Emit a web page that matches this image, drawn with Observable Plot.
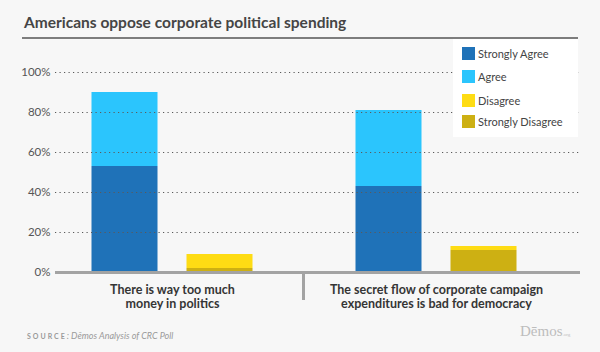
<!DOCTYPE html>
<html><head><meta charset="utf-8">
<script src="https://cdn.jsdelivr.net/npm/d3@7"></script>
<script src="https://cdn.jsdelivr.net/npm/@observablehq/plot@0.6"></script>
<style>
body{margin:0;background:#f7f7f7;}
#page{position:relative;width:600px;height:352px;background:#f7f7f7;overflow:hidden;font-family:Lato,sans-serif;}
#title{position:absolute;left:24px;top:14px;line-height:16px;font-size:15.5px;font-weight:700;color:#454545;white-space:nowrap;}
#rule{position:absolute;left:22px;top:37px;width:556px;height:2px;background:#7d7d7d;}
#chart{position:absolute;left:0;top:40px;}
#legend{position:absolute;left:453px;top:39px;width:125px;height:98px;background:#fff;}
.item{position:absolute;left:9px;height:13px;font-size:11px;color:#444;display:flex;align-items:center;white-space:nowrap;}
.sw{width:13px;height:13px;margin-right:3px;flex:none;}
#source{position:absolute;left:27px;top:327px;line-height:12px;color:#9a9a9a;white-space:nowrap;}
#source .lab{font-size:7px;font-weight:700;letter-spacing:2px;}
#source .txt{font-size:9px;font-style:italic;}
#logo{position:absolute;left:520px;top:323px;line-height:16px;font-family:"Liberation Serif",serif;font-size:15px;color:#bdbdbd;white-space:nowrap;}
#logo small{font-size:5px;}
</style></head>
<body>
<div id="page">
  <div id="title"></div>
  <div id="rule"></div>
  <div id="chart"></div>
  <div id="legend"></div>
  <div id="source"><span class="lab">SOURCE</span><span class="txt">: Dēmos Analysis of CRC Poll</span></div>
  <div id="logo">Dēmos<small>.org</small></div>
</div>
<script>
const titleText = "Americans oppose corporate political spending";
const categories = [
  "There is way too much\nmoney in politics",
  "The secret flow of corporate campaign\nexpenditures is bad for democracy"
];
const responses = ["Strongly Agree", "Agree", "Disagree", "Strongly Disagree"];
const colors = ["#1f72b8", "#2bc5fd", "#fedc14", "#cdb013"];
const stronglyAgree = [53, 43];
const agree = [37, 38];
const disagree = [7, 2];
const stronglyDisagree = [2, 11];
const yTicks = [0, 20, 40, 60, 80, 100];

document.getElementById("title").textContent = titleText;

// legend
const legend = document.getElementById("legend");
const legendTops = [8, 30.5, 54.5, 76];
responses.forEach((r, i) => {
  const it = document.createElement("div");
  it.className = "item";
  it.style.top = legendTops[i] + "px";
  const sw = document.createElement("span");
  sw.className = "sw";
  sw.style.background = colors[i];
  it.appendChild(sw);
  it.appendChild(document.createTextNode(r));
  legend.appendChild(it);
});

const agreeRows = [], disagreeRows = [];
categories.forEach((c, i) => {
  agreeRows.push({category: c, response: responses[0], value: stronglyAgree[i]});
  agreeRows.push({category: c, response: responses[1], value: agree[i]});
  disagreeRows.push({category: c, response: responses[3], value: stronglyDisagree[i]});
  disagreeRows.push({category: c, response: responses[2], value: disagree[i]});
});

const chart = Plot.plot({
  width: 600,
  height: 280,
  marginLeft: 55,
  marginRight: 20,
  marginTop: 32,
  marginBottom: 48,
  style: {background: "transparent", fontFamily: "Lato, sans-serif", fontSize: "11.5px", color: "#555"},
  x: {domain: categories, range: [39.5, 567.5], padding: 0, axis: null},
  y: {domain: [0, 100], axis: null},
  color: {domain: responses, range: colors},
  marks: [
    Plot.barY(agreeRows, Plot.stackY({x: "category", y: "value", fill: "response", order: null, insetLeft: 51.5, insetRight: 146.5})),
    Plot.barY(disagreeRows, Plot.stackY({x: "category", y: "value", fill: "response", order: null, insetLeft: 146.5, insetRight: 51.5})),
    Plot.ruleY(yTicks.filter(d => d > 0), {stroke: "#5a5a5a", strokeWidth: 1.2, strokeDasharray: "1.2,3.3"}),
    Plot.ruleY([0], {stroke: "#a3a3a3", strokeWidth: 3}),
    Plot.ruleX([categories[1]], {y1: 0, y2: -14, dx: -133, stroke: "#a3a3a3", strokeWidth: 3}),
    Plot.axisY(yTicks, {tickSize: 0, tickPadding: 5, tickFormat: d => d + "%", label: null, fill: "#555"}),
    Plot.text(categories, {x: d => d, frameAnchor: "bottom", dy: 24, lineAnchor: "middle", lineHeight: 1.08, fontSize: 12.5, fontWeight: 700, fill: "#353535"})
  ]
});
document.getElementById("chart").appendChild(chart);
</script>
</body></html>
